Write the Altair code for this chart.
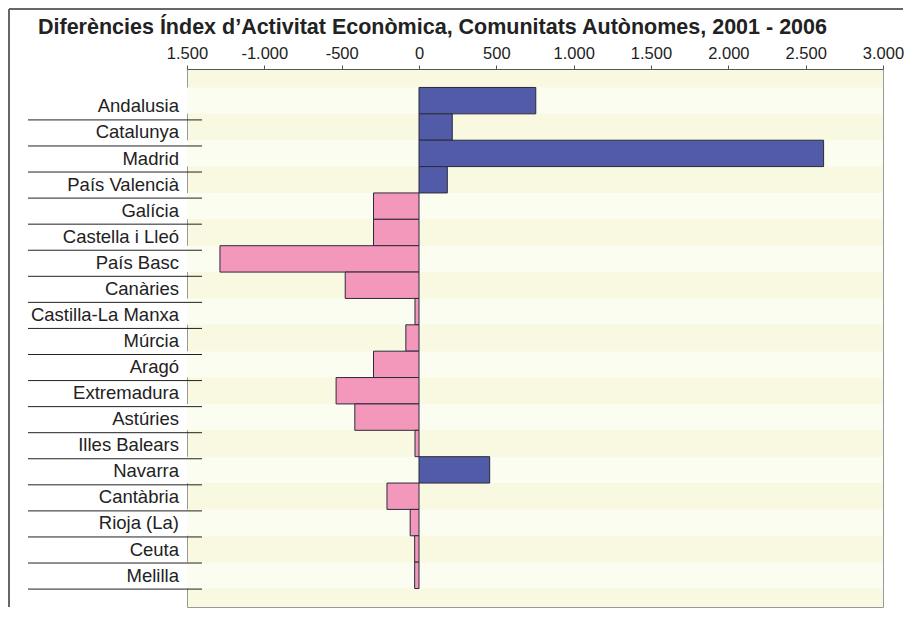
import altair as alt
import pandas as pd

regions = ["Andalusia", "Catalunya", "Madrid", "País Valencià", "Galícia",
           "Castella i Lleó", "País Basc", "Canàries", "Castilla-La Manxa",
           "Múrcia", "Aragó", "Extremadura", "Astúries", "Illes Balears",
           "Navarra", "Cantàbria", "Rioja (La)", "Ceuta", "Melilla"]
values = [755, 215, 2616, 183, -294, -294, -1287, -477, -26, -85, -294,
          -536, -415, -26, 457, -207, -57, -28, -28]
tick_values = [-1500, -1000, -500, 0, 500, 1000, 1500, 2000, 2500, 3000]
tick_labels = ["1.500", "-1.000", "-500", "0", "500", "1.000", "1.500",
               "2.000", "2.500", "3.000"]
title = "Diferències Índex d\u2019Activitat Econòmica, Comunitats Autònomes, 2001 - 2006"

W, H = 696, 538
FONT = "Liberation Sans"
BLUE = "#515BA8"
PINK = "#F498BB"

df = pd.DataFrame({"Region": regions, "Value": values})
stripes = pd.DataFrame({"Region": regions[0::2]})
title_df = pd.DataFrame({"Title": [title]})

label_expr = "[" + ",".join(f"'{t}'" for t in tick_labels) + "][indexof([" + \
    ",".join(str(v) for v in tick_values) + "], datum.value)]"

bar_y = alt.Y("Region:N", sort=regions, axis=None,
              scale=alt.Scale(type="band", domain=regions, paddingInner=0,
                              paddingOuter=0.7))
lab_y = alt.Y("Region:N", sort=regions, axis=None,
              scale=alt.Scale(type="band", domain=regions, paddingInner=0,
                              paddingOuter=0.82))

stripe_layer = alt.Chart(stripes).mark_rect(color="#FBFDF0").encode(
    y=bar_y, x=alt.value(0), x2=alt.value(W))

bars = alt.Chart(df).mark_bar(stroke="#2a2a3a", strokeWidth=1).encode(
    y=bar_y,
    x=alt.X("Value:Q",
            scale=alt.Scale(domain=[-1500, 3000], nice=False, zero=False),
            axis=alt.Axis(orient="top", values=tick_values, labelExpr=label_expr,
                          grid=False, domainColor="#555", tickColor="#555",
                          tickSize=4, labelPadding=4, labelFont=FONT,
                          labelFontSize=16.5, labelColor="#222", title=None,
                          labelFlush=False, labelOverlap=False)),
    color=alt.condition(alt.datum.Value > 0, alt.value(BLUE), alt.value(PINK)),
)

labels = alt.Chart(df).mark_text(align="right", baseline="middle", font=FONT,
                                 fontSize=18.5, color="#222", dy=3).encode(
    y=lab_y, x=alt.value(-8), text="Region:N")

seps = alt.Chart(df).mark_rule(color="#222", strokeWidth=1, yOffset=16.5).encode(
    y=lab_y, x=alt.value(-159), x2=alt.value(15))

title_layer = alt.Chart(title_df).mark_text(
    align="left", baseline="alphabetic", font=FONT, fontSize=21.5,
    fontWeight="bold", color="#222").encode(
    text="Title:N", x=alt.value(-149), y=alt.value(-35))

frame_top = alt.Chart(title_df).mark_rule(color="#666", strokeWidth=2).encode(
    x=alt.value(-178), x2=alt.value(716), y=alt.value(-60))
frame_left = alt.Chart(title_df).mark_rule(color="#666", strokeWidth=2).encode(
    x=alt.value(-178), y=alt.value(-60), y2=alt.value(H))

chart = alt.layer(stripe_layer, bars, labels, seps, title_layer, frame_top,
                  frame_left).resolve_scale(
    y="independent"
).properties(
    width=W, height=H,
    padding=0,
    background="white",
).configure_view(fill="#F9F8E0", stroke="#999", strokeWidth=1)

chart.save("out.html", embed_options={"renderer": "svg", "actions": False})
